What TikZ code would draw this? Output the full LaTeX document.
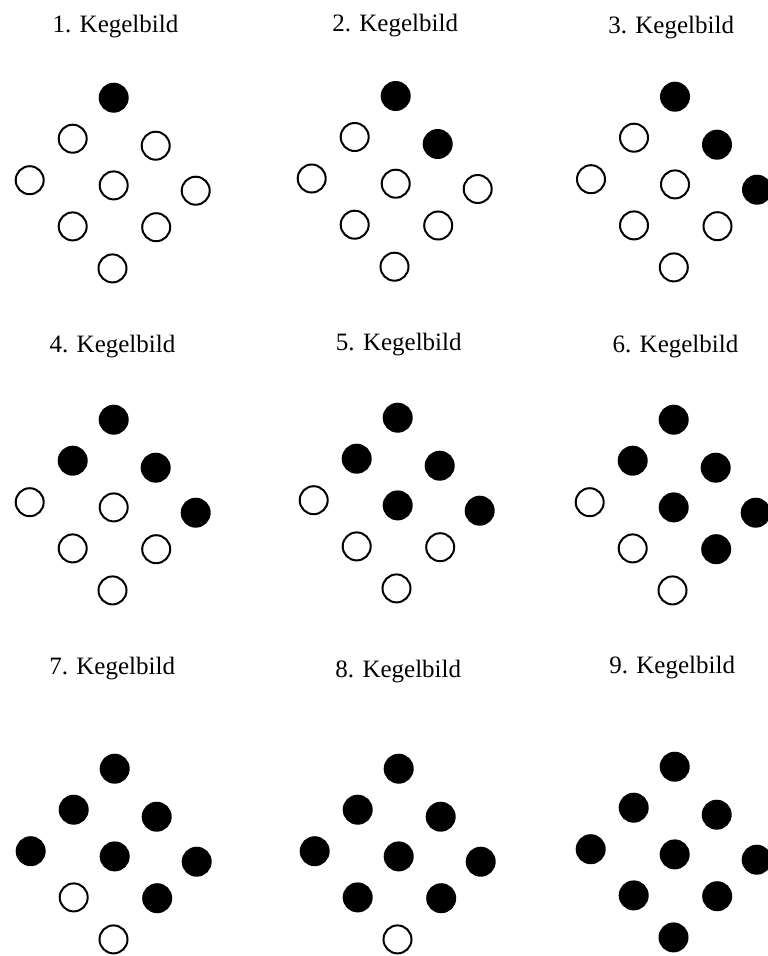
\documentclass[tikz,border=0pt]{standalone}
\usepackage{fontspec}
\setmainfont{Liberation Serif}
\tikzset{
  kegel/.style={circle, draw=black, line width=2pt, fill=#1, inner sep=0pt, minimum size=28pt},
  titel/.style={font=\fontsize{25}{30}\selectfont, inner sep=0pt, anchor=base}
}
\newcommand{\kegelbild}[5]{%
  \node[titel] (title#1) at (#4,#5) {#1. Kegelbild};
  \foreach \pname/\dx/\dy/\rk in {t/0/0/1, ul/-41/41/4, ur/42/48/2, l/-84/82.5/7, c/0/87.7/5, r/82/93/3, ll/-41/128.7/8, lr/42.5/129.5/6, b/-1.2/170.7/9}{
    \ifnum\rk>#1\relax \def\pfc{white}\else \def\pfc{black}\fi
    \node[kegel=\pfc] (k#1-\pname) at ({#2+(\dx)},{#3+(\dy)}) {};
  }%
}
\begin{document}
\begin{tikzpicture}[x=1pt,y=-1pt]
\useasboundingbox[fill=white] (0,0) rectangle (768,956);
\kegelbild{1}{113.7}{97.7}{115.5}{32.5}
\kegelbild{2}{395.7}{96}{395.2}{31}
\kegelbild{3}{675}{96.7}{671.2}{33.3}
\kegelbild{4}{113.7}{419.7}{112.5}{352.7}
\kegelbild{5}{397.7}{417.7}{398.8}{350.7}
\kegelbild{6}{673.7}{419.7}{675.5}{352.7}
\kegelbild{7}{114.7}{768.7}{112.2}{674.3}
\kegelbild{8}{398.7}{768.7}{398.3}{677.7}
\kegelbild{9}{674.7}{766.7}{672.2}{673.7}
\end{tikzpicture}
\end{document}
